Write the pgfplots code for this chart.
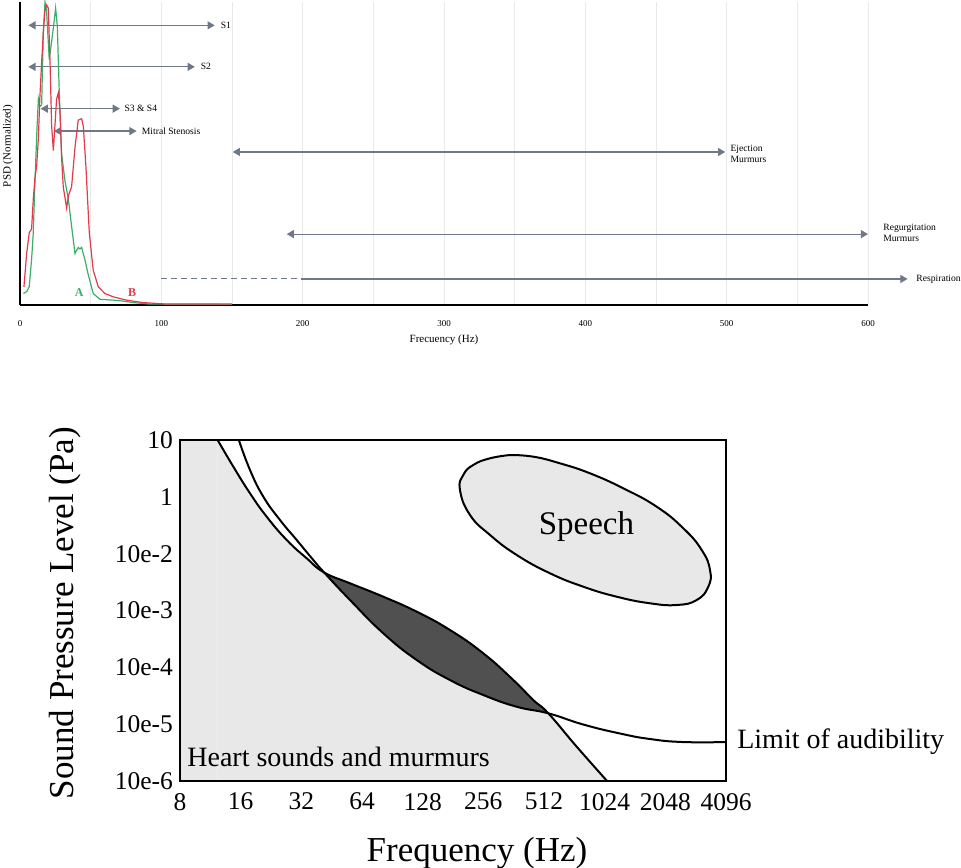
\documentclass[border=0pt]{standalone}
\usepackage{pgfplots}
\pgfplotsset{compat=1.18}
\usetikzlibrary{arrows.meta}
\usepackage{fontspec}
\setmainfont{Liberation Serif}

\definecolor{curveA}{HTML}{3DAE6A}
\definecolor{curveB}{HTML}{E23A4C}
\definecolor{arrowgray}{HTML}{6E7888}
\definecolor{gridgray}{HTML}{E9E9E9}
\definecolor{lightfill}{HTML}{E8E8E8}
\definecolor{darkfill}{HTML}{505050}

\tikzset{dbl/.style={arrowgray, line width=0.6pt,
  {Triangle[length=3.6pt,width=4pt]}-{Triangle[length=3.6pt,width=4pt]}}}
\newcommand{\smallfont}{\fontsize{4.8}{5.6}\selectfont}

% boundary of heart sounds and murmurs
\pgfplotstableread{
u v
0.620 6.000
0.879 5.531
1.154 5.062
1.429 4.651
1.759 4.241
2.088 3.919
2.375 3.670
2.802 3.479
3.351 3.243
3.902 2.979
4.450 2.657
4.999 2.247
5.494 1.777
5.823 1.425
6.071 1.191
6.539 0.604
7.040 0.000
}\heart
% limit of audibility
\pgfplotstableread{
u v
0.970 6.000
1.154 5.472
1.373 5.003
1.648 4.593
1.923 4.241
2.197 3.889
2.375 3.670
2.802 3.185
3.351 2.599
3.902 2.129
4.450 1.777
4.999 1.513
5.550 1.307
6.071 1.191
6.648 0.994
7.253 0.836
7.747 0.739
8.291 0.686
9.000 0.686
}\audible

\begin{document}
\begin{tikzpicture}
\useasboundingbox (0,0) rectangle (480.5pt,-433.5pt);

% ---- top panel: PSD of heart sounds
\begin{axis}[
  at={(10pt,-152.5pt)}, anchor=south west,
  scale only axis, width=424pt, height=151.5pt,
  xmin=0, xmax=600, ymin=0, ymax=1,
  axis x line=bottom, axis y line=left,
  axis line style={-, line width=1.3pt, black},
  x axis line style={-}, y axis line style={-},
  xtick={0,100,...,600}, minor xtick={50,150,...,550},
  ytick=\empty,
  major tick length=0pt, minor tick length=0pt,
  xmajorgrids, xminorgrids,
  major grid style={gridgray, line width=0.5pt},
  minor grid style={gridgray, line width=0.5pt},
  ticklabel style={font=\fontsize{4.5}{5}\selectfont},
  xticklabel style={yshift=-4pt},
  /pgf/number format/assume math mode=true,
  xlabel={Frecuency (Hz)}, ylabel={PSD (Normalized)},
  label style={font=\fontsize{5.5}{6}\selectfont},
  xlabel style={at={(axis description cs:0.5,-0.1155)}, anchor=center},
  ylabel style={at={(axis description cs:-0.0142,0.525)}, anchor=center},
  clip=false,
]
% range arrows
\addplot[dbl] coordinates {(5.9,0.923) (137.8,0.923)};
\addplot[dbl] coordinates {(5.9,0.786) (123.7,0.786)};
\addplot[dbl] coordinates {(14.6,0.648) (70.7,0.648)};
\addplot[dbl] coordinates {(24,0.574) (82.5,0.574)};
\addplot[dbl] coordinates {(150.5,0.505) (499,0.505)};
\addplot[dbl] coordinates {(188.7,0.234) (600,0.234)};
\addplot[arrowgray, line width=0.5pt, densely dashed] coordinates {(100,0.086) (199,0.086)};
\addplot[arrowgray, line width=0.6pt, -{Triangle[length=3.6pt,width=4pt]}] coordinates {(199,0.086) (628,0.086)};

% spectrum A
\addplot[curveA, line width=0.6pt] coordinates {
(2.4,0.038) (4.7,0.044) (6.5,0.06) (8.2,0.15) (9.4,0.24) (10.6,0.41) (12,0.58)
(13,0.68) (14,0.655) (15.3,0.66) (16.5,0.9) (17.7,1.0) (18.8,0.97) (20.7,0.81)
(22.4,0.87) (24,0.93) (25.2,0.98) (26.4,0.92) (27.8,0.70) (29.4,0.5) (31.8,0.41)
(34.2,0.35) (36.5,0.26) (38.9,0.17) (40,0.18) (41.2,0.19) (42.4,0.185) (43.6,0.19)
(45.9,0.15) (48.3,0.10) (51.8,0.038) (56.5,0.019) (66,0.016) (73,0.013) (80,0.008)
(92,0.003) (150,0.002)};
% spectrum B
\addplot[curveB, line width=0.6pt] coordinates {
(2.8,0.06) (4.7,0.17) (6.6,0.24) (8.2,0.25) (9.4,0.35) (10.6,0.42) (11.8,0.46)
(13,0.55) (14,0.68) (15.3,0.8) (16.5,0.9) (17.6,0.97) (18.8,0.99) (20,0.98)
(21.2,0.81) (22.4,0.59) (23.6,0.51) (24.7,0.59) (25.9,0.68) (27.1,0.70) (28.3,0.64)
(29.4,0.49) (30.6,0.39) (33,0.32) (34.2,0.36) (36.5,0.39) (38.9,0.52) (41.2,0.61)
(43.6,0.615) (44.8,0.59) (46.6,0.46) (49,0.24) (51.8,0.115) (55.4,0.06) (60,0.038)
(66,0.027) (75.4,0.016) (87,0.008) (104,0.003) (150,0.003)};

\node[curveA, font=\fontsize{6}{7}\selectfont\bfseries] at (axis cs:41.9,0.04) {A};
\node[curveB, font=\fontsize{6}{7}\selectfont\bfseries] at (axis cs:79.4,0.04) {B};
\begin{scope}[every node/.style={anchor=west, inner sep=0pt, font=\smallfont, align=left}]
\node at (axis cs:141.8,0.923) {S1};
\node at (axis cs:127.7,0.786) {S2};
\node at (axis cs:73.7,0.648) {S3 \& S4};
\node at (axis cs:86,0.574) {Mitral Stenosis};
\node at (axis cs:502.5,0.50) {Ejection\\Murmurs};
\node at (axis cs:610.6,0.237) {Regurgitation\\Murmurs};
\node at (axis cs:634,0.086) {Respiration};
\end{scope}
\end{axis}

% ---- bottom panel: sound pressure vs frequency
\begin{axis}[
  at={(90pt,-390.5pt)}, anchor=south west,
  scale only axis, width=273pt, height=170.5pt,
  xmin=0, xmax=9, ymin=0, ymax=6,
  xtick={0,...,9}, xticklabels={8,16,32,64,128,256,512,1024,2048,4096},
  ytick={0,...,6}, yticklabels={10e-6,10e-5,10e-4,10e-3,10e-2,1,10},
  major tick length=0pt,
  axis line style={line width=1pt, black},
  ticklabel style={font=\fontsize{12.75}{14}\selectfont},
  xticklabel style={yshift=-2.5pt},
  xlabel={Frequency (Hz)}, ylabel={Sound Pressure Level (Pa)},
  label style={font=\fontsize{17.5}{20}\selectfont},
  xlabel style={at={(axis description cs:0.544,-0.211)}, anchor=center},
  ylabel style={at={(axis description cs:-0.2106,0.4927)}, anchor=center},
  axis on top,
  clip=false,
]
% heart sounds and murmurs region
\addplot[draw=none, fill=lightfill] coordinates {(0,0) (0,6) (0.62,6) (0.62,0)} \closedcycle;
\addplot[draw=none, fill=lightfill, smooth, tension=0.8] table[x=u, y=v] {\heart} \closedcycle;
% audible part: between heart boundary (top) and limit of audibility (bottom)
\addplot[draw=none, fill=darkfill, smooth, tension=0.8] coordinates {
(2.375,3.670) (2.802,3.479) (3.351,3.243) (3.902,2.979) (4.450,2.657) (4.999,2.247)
(5.494,1.777) (5.823,1.425) (6.071,1.191) (6.071,1.191) (5.550,1.307) (4.999,1.513)
(4.450,1.777) (3.902,2.129) (3.351,2.599) (2.802,3.185) (2.375,3.670)};

\addplot[black, line width=1pt, smooth, tension=0.8] table[x=u, y=v] {\heart};
\addplot[black, line width=1pt, smooth, tension=0.8] table[x=u, y=v] {\audible};

% speech
\addplot[fill=lightfill, draw=black, line width=1pt, smooth, tension=0.8] coordinates {
(5.439,5.736) (5.823,5.707) (6.263,5.590) (6.758,5.414) (7.307,5.150) (7.857,4.827)
(8.296,4.447) (8.599,4.065) (8.736,3.713) (8.708,3.419) (8.517,3.185) (8.187,3.097)
(7.747,3.127) (7.198,3.243) (6.648,3.419) (6.099,3.655) (5.550,3.977) (5.110,4.329)
(4.780,4.681) (4.615,5.121) (4.670,5.385) (4.834,5.561) (5.110,5.678) (5.439,5.736)};

\node[font=\fontsize{16.5}{18}\selectfont] at (axis cs:6.70,4.475) {Speech};
\node[anchor=west, inner sep=0pt, font=\fontsize{14}{16}\selectfont] at (axis cs:0.115,0.43) {Heart sounds and murmurs};
\node[anchor=west, inner sep=0pt, font=\fontsize{14}{16}\selectfont] at (axis cs:9.18,0.686) {Limit of audibility};
\end{axis}
\end{tikzpicture}
\end{document}
